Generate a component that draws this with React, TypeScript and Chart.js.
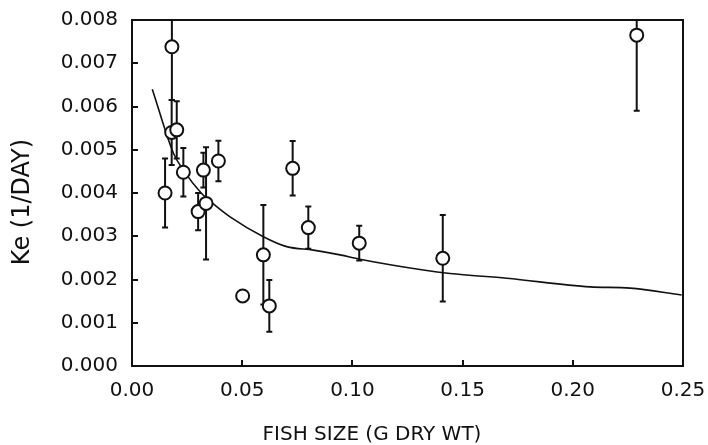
import React, { useEffect, useRef } from "react";
import { Chart, registerables } from "chart.js";

Chart.register(...registerables);

// Observed data: fish size (g dry wt), elimination rate Ke (1/day), +/- error
const fishSize = [0.0150, 0.0181, 0.0180, 0.0203, 0.0233, 0.0300, 0.0324, 0.0336, 0.0392, 0.0502, 0.0596, 0.0623, 0.0729, 0.0800, 0.1031, 0.1410, 0.2290];
const keValues = [0.00400, 0.00738, 0.00540, 0.00546, 0.00448, 0.00357, 0.00453, 0.00376, 0.00474, 0.00162, 0.00257, 0.00139, 0.00457, 0.00320, 0.00284, 0.00249, 0.00765];
const keErrors = [0.0008, 0.00123, 0.00075, 0.00066, 0.00056, 0.00043, 0.0004, 0.0013, 0.00047, 0, 0.00115, 0.0006, 0.00063, 0.00049, 0.0004, 0.001, 0.00175];

// Fitted curve
const curveX = [0.0092, 0.0188, 0.0233, 0.0316, 0.0369, 0.0445, 0.0596, 0.0702, 0.0823, 0.0944, 0.1034, 0.1322, 0.1443, 0.170, 0.2078, 0.226, 0.2494];
const curveY = [0.00640, 0.00492, 0.00453, 0.00399, 0.00375, 0.00345, 0.00299, 0.00276, 0.00268, 0.00257, 0.00247, 0.00222, 0.00214, 0.00203, 0.00183, 0.00180, 0.00164];

const xTicks = [0, 0.05, 0.1, 0.15, 0.2, 0.25];
const yTicks = [0, 0.001, 0.002, 0.003, 0.004, 0.005, 0.006, 0.007, 0.008];

const xTitle = "FISH SIZE (G DRY WT)";
const yTitle = "Ke (1/DAY)";

const FONT = "'DejaVu Sans', sans-serif";
const INK = "#111";

export default function App() {
  const ref = useRef<HTMLCanvasElement | null>(null);

  useEffect(() => {
    if (!ref.current) return;

    const decorPlugin = {
      id: "decor",
      beforeDatasetsDraw(chart: any) {
        const { ctx, chartArea, scales } = chart;
        const x = scales.x;
        const y = scales.y;
        ctx.save();
        ctx.beginPath();
        ctx.rect(chartArea.left, chartArea.top - 1, chartArea.right - chartArea.left, chartArea.bottom - chartArea.top + 1);
        ctx.clip();
        ctx.strokeStyle = INK;
        ctx.lineWidth = 2;
        for (let i = 0; i < fishSize.length; i++) {
          const e = keErrors[i];
          if (!e) continue;
          const px = x.getPixelForValue(fishSize[i]);
          const y1 = y.getPixelForValue(keValues[i] + e);
          const y2 = y.getPixelForValue(keValues[i] - e);
          ctx.beginPath();
          ctx.moveTo(px, y1);
          ctx.lineTo(px, y2);
          ctx.moveTo(px - 3, y1);
          ctx.lineTo(px + 3, y1);
          ctx.moveTo(px - 3, y2);
          ctx.lineTo(px + 3, y2);
          ctx.stroke();
        }
        ctx.restore();
      },
      afterDraw(chart: any) {
        const { ctx, chartArea, scales } = chart;
        const x = scales.x;
        const y = scales.y;
        ctx.save();
        ctx.strokeStyle = INK;
        ctx.lineWidth = 2;
        ctx.strokeRect(chartArea.left, chartArea.top, chartArea.right - chartArea.left, chartArea.bottom - chartArea.top);
        ctx.beginPath();
        xTicks.forEach((v) => {
          const px = Math.round(x.getPixelForValue(v));
          ctx.moveTo(px, chartArea.bottom);
          ctx.lineTo(px, chartArea.bottom - 6);
        });
        yTicks.forEach((v) => {
          const py = Math.round(y.getPixelForValue(v));
          ctx.moveTo(chartArea.left, py);
          ctx.lineTo(chartArea.left + 6, py);
        });
        ctx.stroke();

        ctx.fillStyle = INK;
        ctx.textAlign = "center";
        ctx.textBaseline = "middle";
        ctx.font = `20px ${FONT}`;
        ctx.fillText(xTitle, chartArea.left + 240, 435);
        ctx.save();
        ctx.translate(23, (chartArea.top + chartArea.bottom) / 2 + 9);
        ctx.rotate(-Math.PI / 2);
        ctx.font = `24px ${FONT}`;
        ctx.fillText(yTitle, 0, 0);
        ctx.restore();
        ctx.restore();
      },
    };

    const chart = new Chart(ref.current, {
      type: "scatter",
      data: {
        datasets: [
          {
            type: "scatter",
            label: "Observed",
            data: fishSize.map((v, i) => ({ x: v, y: keValues[i] })),
            pointRadius: 6.5,
            pointHoverRadius: 6.5,
            pointBorderWidth: 2,
            pointBackgroundColor: "#fff",
            pointBorderColor: INK,
            order: 0,
          },
          {
            type: "line",
            label: "Model",
            data: curveX.map((v, i) => ({ x: v, y: curveY[i] })),
            borderColor: INK,
            borderWidth: 1.6,
            pointRadius: 0,
            fill: false,
            cubicInterpolationMode: "monotone",
            order: 1,
          },
        ],
      },
      options: {
        animation: false,
        responsive: true,
        maintainAspectRatio: false,
        layout: { padding: { top: 20, right: 25, left: 0, bottom: 0 } },
        plugins: { legend: { display: false }, tooltip: { enabled: false } },
        scales: {
          x: {
            type: "linear",
            min: 0,
            max: 0.25,
            afterFit: (s: any) => {
              s.height = 79;
              s.paddingLeft = 0;
              s.paddingRight = 0;
            },
            afterBuildTicks: (s: any) => { s.ticks = xTicks.map((v) => ({ value: v })); },
            grid: { display: false, drawTicks: false },
            border: { display: false },
            ticks: {
              padding: 13,
              color: INK,
              font: { family: FONT, size: 20 },
              maxRotation: 0,
              callback: (v: any) => Number(v).toFixed(2),
            },
          },
          y: {
            type: "linear",
            min: 0,
            max: 0.008,
            afterFit: (s: any) => {
              s.width = 132;
              s.paddingTop = 0;
              s.paddingBottom = 0;
            },
            afterBuildTicks: (s: any) => { s.ticks = yTicks.map((v) => ({ value: v })); },
            grid: { display: false, drawTicks: false },
            border: { display: false },
            ticks: {
              padding: 14,
              color: INK,
              font: { family: FONT, size: 20 },
              callback: (v: any) => Number(v).toFixed(3),
            },
          },
        },
      },
      plugins: [decorPlugin],
    } as any);

    return () => chart.destroy();
  }, []);

  return (
    <div style={{ position: "fixed", left: 0, top: 0, width: 708, height: 445, background: "#fff" }}>
      <canvas ref={ref} />
    </div>
  );
}
